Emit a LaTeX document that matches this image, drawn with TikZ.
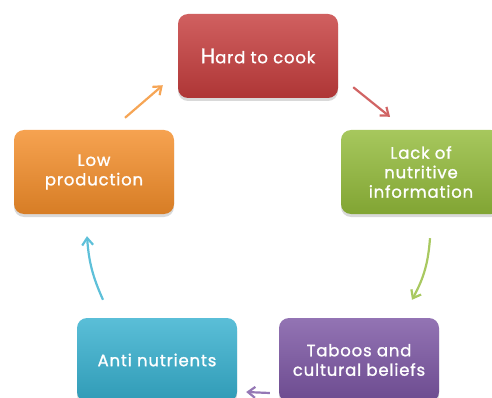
\documentclass[tikz,border=0pt]{standalone}
\usepackage{fontspec}
\setmainfont{Poppins}[LetterSpace=5, FakeBold=1.2]
\usetikzlibrary{arrows.meta,shadows}
\definecolor{cookred}{HTML}{C63D3D}
\definecolor{lackgreen}{HTML}{93BB3A}
\definecolor{taboopurple}{HTML}{7B55A3}
\definecolor{anticyan}{HTML}{36B0CF}
\definecolor{loworange}{HTML}{F48E2A}

\begin{document}
\begin{tikzpicture}[x=1pt, y=-1pt,
    box/.style = {rounded corners=10pt, minimum width=160pt, minimum height=84pt,
        align=center, text=white, font=\fontsize{16.5}{19.5}\selectfont,
        top color=#1!82!white, middle color=#1, bottom color=#1!88!black,
        drop shadow={shadow xshift=0pt, shadow yshift=-3pt, opacity=0.3}},
    arr/.style = {line width=2.2pt, draw=#1, -{Straight Barb[angle=75:9pt]}}]
    \useasboundingbox (0,0) rectangle (492,398);
    \clip (0,0) rectangle (492,398);
    % the five boxes
    \node [box=cookred] (hard) at (258,56) {{\fontsize{21}{19.5}\selectfont H}ard to cook};
    \node [box=lackgreen] (lack) at (421,172) {Lack of\\nutritive\\information};
    \node [box=taboopurple] (taboo) at (359,360) {Taboos and\\cultural beliefs};
    \node [box=anticyan] (anti) at (157,360) {Anti nutrients};
    \node [box=loworange] (low) at (94,172) {Low\\production};
    % arrows round the cycle
    \draw [arr=cookred!80!white] ([shift={(15,-11)}]hard.south east) -- ([shift={(-31,-13)}]lack.north);
    \draw [arr=lackgreen!80!white] ([shift={(9,24)}]lack.south) to [bend left=12] ([shift={(53,-18)}]taboo.north);
    \draw [arr=taboopurple!80!white] ([shift={(-9,33)}]taboo.west) -- ([shift={(9,32)}]anti.east);
    \draw [arr=anticyan!80!white] ([shift={(-54,-18)}]anti.north) to [bend left=10] ([shift={(-7,22)}]low.south);
    \draw [arr=loworange!80!white] ([shift={(31,-12)}]low.north) -- ([shift={(-15,-13)}]hard.south west);
\end{tikzpicture}
\end{document}
